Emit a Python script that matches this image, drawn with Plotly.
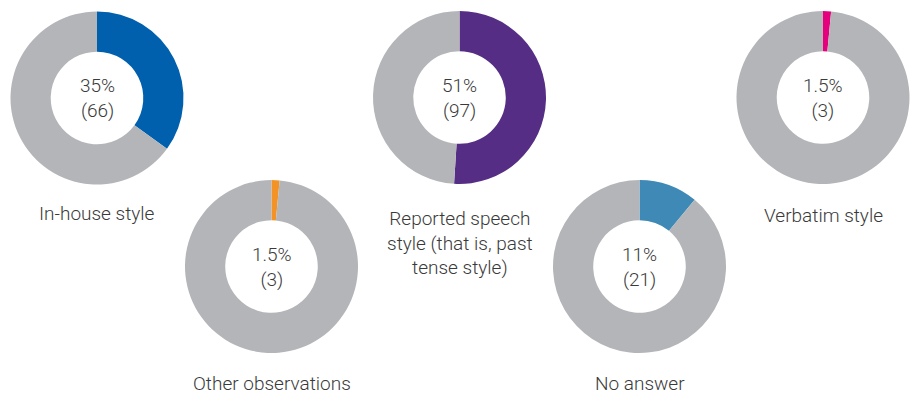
import plotly.graph_objects as go

W, H = 911, 396

categories = ["In-house style", "Other observations",
              "Reported speech<br>style (that is, past<br>tense style)",
              "No answer", "Verbatim style"]
percents = [35, 1.5, 51, 11, 1.5]
counts = [66, 3, 97, 21, 3]
pct_labels = ["35%", "1.5%", "51%", "11%", "1.5%"]
colors = ["#0060AE", "#F39325", "#552D84", "#3E89B5", "#E5007D"]
rest_color = "#B4B5B9"

# layout (pixel centres, radius, label y)
centers = [(97, 98), (271.5, 266.5), (459.5, 97.5), (639.5, 266.5), (823, 97.5)]
radius = 86.5
label_y = [213, 383, 243, 383, 215]

font_family = "Roboto"
text_color = "#3a3a3a"

fig = go.Figure()
annotations = []
for i in range(5):
    cx, cy = centers[i]
    dom_x = [(cx - radius) / W, (cx + radius) / W]
    dom_y = [1 - (cy + radius) / H, 1 - (cy - radius) / H]
    fig.add_trace(go.Pie(
        values=[percents[i], 100 - percents[i]],
        labels=["value", "rest"],
        marker=dict(colors=[colors[i], rest_color], line=dict(width=0)),
        hole=0.535,
        sort=False,
        direction="clockwise",
        rotation=0,
        textinfo="none",
        hoverinfo="none",
        showlegend=False,
        domain=dict(x=dom_x, y=dom_y),
    ))
    annotations.append(dict(
        x=cx / W, y=1 - cy / H, xref="paper", yref="paper",
        text=f"{pct_labels[i]}<br>({counts[i]})",
        showarrow=False, xanchor="center", yanchor="middle",
        font=dict(family=font_family, size=19, color=text_color, weight=300),
    ))
    annotations.append(dict(
        x=cx / W, y=1 - label_y[i] / H, xref="paper", yref="paper",
        text=categories[i],
        showarrow=False, xanchor="center", yanchor="middle",
        font=dict(family=font_family, size=19, color=text_color, weight=300),
    ))

fig.update_layout(
    width=W, height=H,
    margin=dict(l=0, r=0, t=0, b=0),
    paper_bgcolor="white", plot_bgcolor="white",
    annotations=annotations,
)
fig.write_html("out.html")
